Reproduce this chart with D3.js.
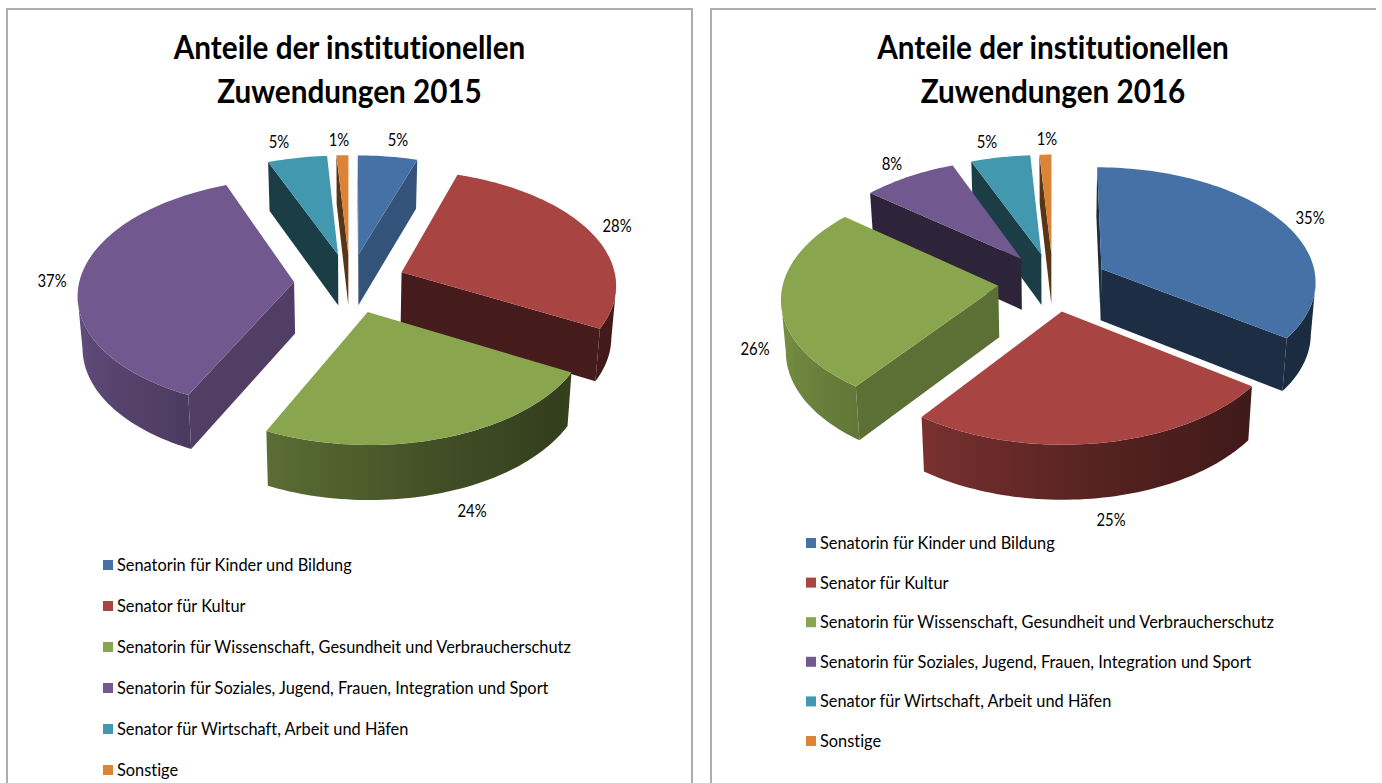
<!DOCTYPE html>
<html lang="de">
<head>
  <meta charset="UTF-8">
  <title>Anteile der institutionellen Zuwendungen</title>
  <script src="https://d3js.org/d3.v7.min.js"></script>
  <style>
    html, body { margin: 0; background: #fff; }
    svg { display: block; }
    text { font-family: Lato, sans-serif; fill: #000; font-variant-ligatures: none; }
  </style>
</head>
<body>
<script>
  const categories = [
    'Senatorin für Kinder und Bildung',
    'Senator für Kultur',
    'Senatorin für Wissenschaft, Gesundheit und Verbraucherschutz',
    'Senatorin für Soziales, Jugend, Frauen, Integration und Sport',
    'Senator für Wirtschaft, Arbeit und Häfen',
    'Sonstige'
  ]
  const values2015 = [5, 28, 24, 37, 5, 1]
  const values2016 = [35, 25, 26, 8, 5, 1]
  const colors = ['#4671a6', '#a84441', '#89a54e', '#71588f', '#4298af', '#db8438']

  const width = 1382
  const height = 783

  // perspective of the tilted pie
  const radius = 215
  const tilt = 0.53
  const persp = 0.000455
  const wall = 51.5
  const converge = 0.982

  // shade of the walls, by the compass direction they face
  const rimShade = d3.scaleLinear()
    .domain([100, 130, 165, 216, 270, 340])
    .range([0.4, 0.38, 0.48, 0.72, 0.92, 0.92])
    .clamp(true)
  const sideShade = d3.scaleLinear()
    .domain([100, 130, 205, 250])
    .range([0.76, 0.66, 0.41, 0.4])
    .clamp(true)

  const pie = d3.pie().sort(null).value(d => d)
  const line = d3.line().x(d => d[0]).y(d => d[1])

  const svg = d3.select('body').append('svg')
    .attr('width', width)
    .attr('height', height)
  const defs = svg.append('defs')

  function drawChart(c) {
    const g = svg.append('g')

    g.append('path')
      .attr('d', c.frame)
      .attr('fill', 'none')
      .attr('stroke', '#adadad')
      .attr('stroke-width', 2)

    g.selectAll('.title')
      .data(c.title)
      .join('text')
      .attr('class', 'title')
      .attr('transform', (d, i) => `translate(${c.titleX},${59 + i * 44}) scale(0.9,1)`)
      .attr('text-anchor', 'middle')
      .attr('font-size', 33)
      .attr('font-weight', 700)
      .text(d => d)

    // screen position of a point of the top face; u right, v towards the viewer
    const project = (u, v) => {
      const f = 1 / (1 - v * persp)
      return [c.cx + f * u, c.cy + f * v * tilt, f]
    }
    // same point at the foot of the wall, verticals lean in a little
    const drop = p => [c.cx + (p[0] - c.cx) * converge, p[1] + wall * (1 + p[2]) / 2]

    const slices = pie(c.values).map((d, i) => {
      const mid = (d.startAngle + d.endAngle) / 2
      const ox = c.explode * Math.sin(mid)
      const oy = -c.explode * Math.cos(mid)
      const rim = d3.range(0, 1.0001, 1 / Math.max(2, Math.ceil((d.endAngle - d.startAngle) * 40)))
        .map(t => {
          const a = d.startAngle + t * (d.endAngle - d.startAngle)
          return Object.assign(project(ox + radius * Math.sin(a), oy - radius * Math.cos(a)), {a})
        })
      return {i, mid, apex: project(ox, oy), rim, depth: oy}
    })

    // painter's order: the pieces at the back first
    slices.sort((a, b) => a.depth - b.depth)

    slices.forEach(s => {
      const color = d3.color(colors[s.i])
      const shaded = k => d3.rgb(color.r * k, color.g * k, color.b * k).formatHex()
      const piece = g.append('g')
      const quad = (p, q, fill) => piece.append('path')
        .attr('d', line([p, q, drop(q), drop(p)]) + 'Z')
        .attr('fill', fill)

      // a wall shows when its top edge runs right to left
      const first = s.rim[0]
      const last = s.rim[s.rim.length - 1]
      const deg = a => ((a * 180 / Math.PI) % 360 + 360) % 360
      if (first[0] < s.apex[0]) quad(s.apex, first, shaded(sideShade(deg(first.a - Math.PI / 2))))
      if (s.apex[0] < last[0]) quad(last, s.apex, shaded(sideShade(deg(last.a + Math.PI / 2))))

      // the curved wall is one path with a gradient running across it
      const seen = s.rim.filter((p, j) =>
        (j < s.rim.length - 1 && s.rim[j + 1][0] < p[0]) || (j > 0 && p[0] < s.rim[j - 1][0]))
      if (seen.length > 1) {
        const id = `rim-${c.year}-${s.i}`
        const x0 = seen[0][0]
        const x1 = seen[seen.length - 1][0]
        const grad = defs.append('linearGradient')
          .attr('id', id)
          .attr('gradientUnits', 'userSpaceOnUse')
          .attr('x1', x0).attr('x2', x1)
          .attr('y1', 0).attr('y2', 0)
        seen.forEach(p => grad.append('stop')
          .attr('offset', (p[0] - x0) / (x1 - x0))
          .attr('stop-color', shaded(rimShade(deg(p.a)))))
        piece.append('path')
          .attr('d', line([...seen, ...seen.map(drop).reverse()]) + 'Z')
          .attr('fill', `url(#${id})`)
      }

      piece.append('path')
        .attr('d', line([s.apex, ...s.rim]) + 'Z')
        .attr('fill', colors[s.i])
    })

    g.selectAll('.pct')
      .data(c.values)
      .join('text')
      .attr('class', 'pct')
      .attr('transform', (d, i) => `translate(${c.labelX[i]},${c.labelY[i]}) scale(0.9,1)`)
      .attr('text-anchor', 'middle')
      .attr('font-size', 16.5)
      .text(d => d + '%')

    const legendY = d3.scalePoint().domain(categories).range(c.legendY)
    const legend = g.selectAll('.legend')
      .data(categories)
      .join('g')
      .attr('class', 'legend')
      .attr('transform', d => `translate(${c.legendX},${legendY(d)})`)
    legend.append('rect')
      .attr('y', -5)
      .attr('width', 10)
      .attr('height', 10)
      .attr('fill', (d, i) => colors[i])
    legend.append('text')
      .attr('transform', 'translate(14,6) scale(0.93,1)')
      .attr('font-size', 17.6)
      .text(d => d)
  }

  drawChart({
    year: 2015,
    values: values2015,
    title: ['Anteile der institutionellen', 'Zuwendungen 2015'],
    frame: `M7,${height + 2}V9H692V${height + 2}`,
    titleX: 349.5,
    cx: 350, cy: 283, explode: 56,
    labelX: [398, 617, 472, 52, 279, 339],
    labelY: [146, 232, 517, 287, 148, 146],
    legendX: 103, legendY: [565, 770]
  })

  drawChart({
    year: 2016,
    values: values2016,
    title: ['Anteile der institutionellen', 'Zuwendungen 2016'],
    frame: `M711,${height + 2}V9H1376`,
    titleX: 1053,
    cx: 1053, cy: 282, explode: 55,
    labelX: [1310, 1111, 755, 892, 987, 1047],
    labelY: [224, 526, 355, 170, 148, 145],
    legendX: 806, legendY: [543, 741]
  })
</script>
</body>
</html>
